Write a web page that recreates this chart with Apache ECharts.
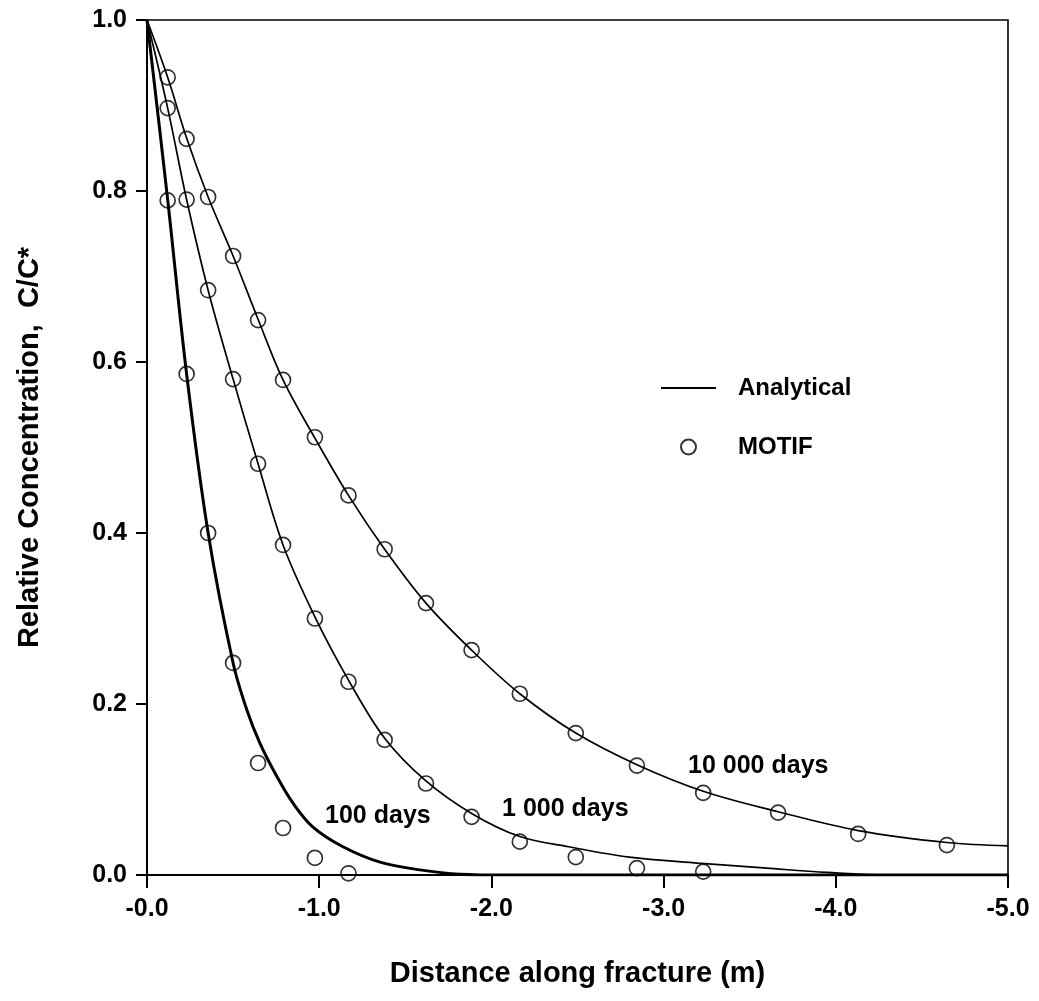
<!DOCTYPE html>
<html>
<head>
<meta charset="utf-8">
<script src="https://cdn.jsdelivr.net/npm/echarts@6/dist/echarts.min.js"></script>
<style>
html,body{margin:0;padding:0;background:#fff}
#c{width:1039px;height:1001px}
</style>
</head>
<body>
<div id="c"></div>
<script>
// ---- data ----
const nodeX = [-0.12, -0.23, -0.355, -0.50, -0.645, -0.79, -0.975, -1.17, -1.38, -1.62, -1.885, -2.165, -2.49, -2.845, -3.23, -3.665, -4.13, -4.645];
const motif100 = [0.789, 0.586, 0.400, 0.248, 0.131, 0.055, 0.020, 0.002];
const motif1000 = [0.897, 0.790, 0.684, 0.580, 0.481, 0.386, 0.300, 0.226, 0.158, 0.107, 0.068, 0.039, 0.021, 0.008, 0.004];
const motif10000 = [0.933, 0.861, 0.793, 0.724, 0.649, 0.579, 0.512, 0.444, 0.381, 0.318, 0.263, 0.212, 0.166, 0.128, 0.096, 0.073, 0.048, 0.035];

const ana100X = [0, -0.12, -0.23, -0.355, -0.50, -0.58, -0.656, -0.755, -0.848, -0.964, -1.138, -1.353, -1.585, -1.818, -2.1, -5.0];
const ana100Y = [1.0, 0.790, 0.586, 0.400, 0.248, 0.193, 0.154, 0.115, 0.084, 0.056, 0.033, 0.015, 0.006, 0.001, 0.0, 0.0];

const ana1000X = [0, -0.12, -0.23, -0.355, -0.50, -0.645, -0.79, -0.975, -1.17, -1.38, -1.62, -1.885, -2.165, -2.45, -2.8, -3.2, -3.6, -3.95, -4.3, -5.0];
const ana1000Y = [1.0, 0.897, 0.790, 0.684, 0.580, 0.481, 0.386, 0.302, 0.228, 0.160, 0.110, 0.072, 0.045, 0.033, 0.021, 0.014, 0.008, 0.003, 0.0, 0.0];

const ana10000X = [0, -0.12, -0.23, -0.355, -0.50, -0.645, -0.79, -0.975, -1.17, -1.38, -1.62, -1.885, -2.165, -2.49, -2.845, -3.23, -3.665, -4.13, -4.645, -5.0];
const ana10000Y = [1.0, 0.933, 0.862, 0.793, 0.724, 0.650, 0.579, 0.511, 0.444, 0.381, 0.318, 0.263, 0.212, 0.166, 0.129, 0.098, 0.074, 0.052, 0.038, 0.034];

const curveNames = ['100 days', '1 000 days', '10 000 days'];
const curveNameAt = [[-1.034, 0.069], [-2.062, 0.077], [-3.142, 0.1275]];

const xTitle = 'Distance along fracture (m)';
const yTitle = 'Relative Concentration,  C/C*';
// --------------------------------------

const FONT = "'Liberation Sans', Arial, Helvetica, sans-serif";
function pairs(xs, ys) { return ys.map((y, i) => [xs[i], y]); }

const chart = echarts.init(document.getElementById('c'), null, {renderer: 'canvas'});

const lineBase = {
  type: 'line', name: 'Analytical', symbol: 'none', smooth: 0.35,
  itemStyle: {color: '#000'}, silent: true, z: 2
};
const dotBase = {
  type: 'scatter', name: 'MOTIF', symbol: 'circle', symbolSize: 15,
  itemStyle: {color: 'rgba(0,0,0,0)', borderColor: '#000', borderWidth: 1.7},
  silent: true, z: 3
};

chart.setOption({
  animation: false,
  backgroundColor: '#fff',
  grid: {left: 147, right: 31, top: 20, bottom: 126, show: true, borderColor: '#000', borderWidth: 1.6, backgroundColor: 'transparent'},
  xAxis: {
    type: 'value', min: -5, max: 0, interval: 1, inverse: true,
    name: xTitle, nameLocation: 'middle', nameGap: 84,
    nameTextStyle: {fontFamily: FONT, fontWeight: 'bold', fontSize: 29, color: '#000'},
    axisLine: {show: true, onZero: false, lineStyle: {color: '#000', width: 2}},
    axisTick: {show: true, inside: false, length: 13, lineStyle: {color: '#000', width: 2}},
    axisLabel: {margin: 22, fontFamily: FONT, fontWeight: 'bold', fontSize: 25, color: '#000',
      formatter: v => (v <= 0 ? '-' : '') + Math.abs(v).toFixed(1)},
    splitLine: {show: false}
  },
  yAxis: {
    type: 'value', min: 0, max: 1, interval: 0.2,
    name: yTitle, nameLocation: 'middle', nameGap: 103, nameRotate: 90,
    nameTextStyle: {fontFamily: FONT, fontWeight: 'bold', fontSize: 29, color: '#000'},
    axisLine: {show: true, onZero: false, lineStyle: {color: '#000', width: 2}},
    axisTick: {show: true, inside: false, length: 11, lineStyle: {color: '#000', width: 2}},
    axisLabel: {margin: 20, fontFamily: FONT, fontWeight: 'bold', fontSize: 25, color: '#000',
      formatter: v => v.toFixed(1)},
    splitLine: {show: false}
  },
  legend: {
    data: [
      {name: 'Analytical', itemStyle: {color: 'rgba(0,0,0,0)', borderWidth: 0, opacity: 0}},
      {name: 'MOTIF'}
    ],
    orient: 'vertical', left: 660, top: 373, padding: 0,
    itemWidth: 55, itemHeight: 15, itemGap: 29,
    selectedMode: false,
    textStyle: {fontFamily: FONT, fontWeight: 'bold', fontSize: 24, color: '#000', lineHeight: 30, padding: [0, 0, 0, 17]}
  },
  series: [
    Object.assign({}, lineBase, {data: pairs(ana10000X, ana10000Y), lineStyle: {color: '#000', width: 1.7}}),
    Object.assign({}, lineBase, {data: pairs(ana1000X, ana1000Y), lineStyle: {color: '#000', width: 1.7}}),
    Object.assign({}, lineBase, {data: pairs(ana100X, ana100Y), lineStyle: {color: '#000', width: 3}}),
    Object.assign({}, dotBase, {data: pairs(nodeX, motif10000)}),
    Object.assign({}, dotBase, {data: pairs(nodeX, motif1000)}),
    Object.assign({}, dotBase, {data: pairs(nodeX, motif100)})
  ]
});

const labelGraphics = curveNames.map((t, i) => {
  const p = chart.convertToPixel({gridIndex: 0}, curveNameAt[i]);
  return {
    type: 'text', x: p[0], y: p[1], z: 10,
    style: {text: t, fill: '#000', font: "bold 25px " + FONT, align: 'left', verticalAlign: 'middle'}
  };
});
chart.setOption({graphic: labelGraphics});
</script>
</body>
</html>
